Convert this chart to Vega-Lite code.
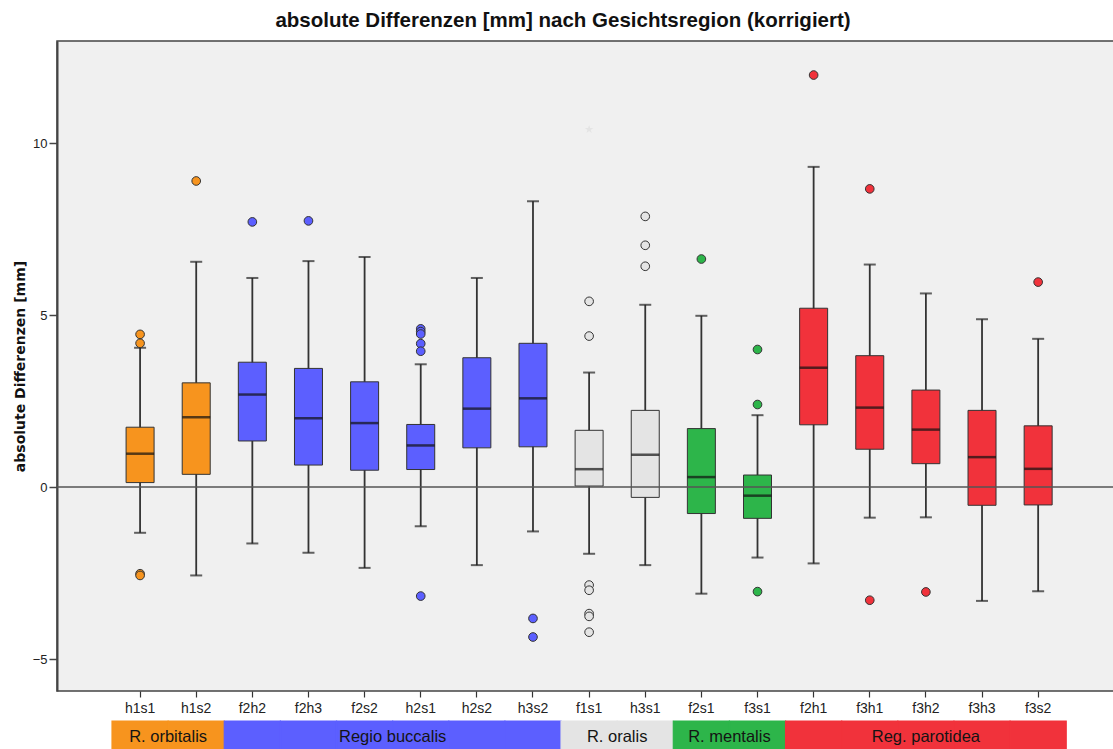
{
  "$schema": "https://vega.github.io/schema/vega-lite/v6.json",
  "background": "white",
  "padding": {"left": 12, "top": 9, "right": 0, "bottom": 0},
  "config": {"font": "Liberation Sans", "concat": {"spacing": 4}},
  "datasets": {
    "boxes": [
      {"cat": "h1s1", "region": "R. orbitalis", "lo": -1.33, "q1": 0.13, "med": 0.97, "q3": 1.74, "hi": 4.05},
      {"cat": "h1s2", "region": "R. orbitalis", "lo": -2.57, "q1": 0.37, "med": 2.03, "q3": 3.03, "hi": 6.55},
      {"cat": "f2h2", "region": "Regio buccalis", "lo": -1.64, "q1": 1.34, "med": 2.69, "q3": 3.63, "hi": 6.08},
      {"cat": "f2h3", "region": "Regio buccalis", "lo": -1.91, "q1": 0.64, "med": 2.0, "q3": 3.45, "hi": 6.57},
      {"cat": "f2s2", "region": "Regio buccalis", "lo": -2.35, "q1": 0.49, "med": 1.86, "q3": 3.06, "hi": 6.69},
      {"cat": "h2s1", "region": "Regio buccalis", "lo": -1.14, "q1": 0.51, "med": 1.21, "q3": 1.82, "hi": 3.57},
      {"cat": "h2s2", "region": "Regio buccalis", "lo": -2.27, "q1": 1.14, "med": 2.28, "q3": 3.76, "hi": 6.08},
      {"cat": "h3s2", "region": "Regio buccalis", "lo": -1.29, "q1": 1.17, "med": 2.58, "q3": 4.18, "hi": 8.31},
      {"cat": "f1s1", "region": "R. oralis", "lo": -1.94, "q1": 0.03, "med": 0.52, "q3": 1.65, "hi": 3.33},
      {"cat": "h3s1", "region": "R. oralis", "lo": -2.27, "q1": -0.3, "med": 0.94, "q3": 2.23, "hi": 5.3},
      {"cat": "f2s1", "region": "R. mentalis", "lo": -3.1, "q1": -0.77, "med": 0.29, "q3": 1.7, "hi": 4.98},
      {"cat": "f3s1", "region": "R. mentalis", "lo": -2.05, "q1": -0.91, "med": -0.25, "q3": 0.35, "hi": 2.09},
      {"cat": "f2h1", "region": "Reg. parotidea", "lo": -2.22, "q1": 1.81, "med": 3.47, "q3": 5.2, "hi": 9.31},
      {"cat": "f3h1", "region": "Reg. parotidea", "lo": -0.89, "q1": 1.1, "med": 2.31, "q3": 3.82, "hi": 6.47},
      {"cat": "f3h2", "region": "Reg. parotidea", "lo": -0.88, "q1": 0.68, "med": 1.67, "q3": 2.82, "hi": 5.63},
      {"cat": "f3h3", "region": "Reg. parotidea", "lo": -3.31, "q1": -0.53, "med": 0.87, "q3": 2.23, "hi": 4.88},
      {"cat": "f3s2", "region": "Reg. parotidea", "lo": -3.03, "q1": -0.52, "med": 0.53, "q3": 1.78, "hi": 4.31}
    ],
    "outliers": [
      {"cat": "h1s1", "region": "R. orbitalis", "v": 4.44, "type": "outlier"},
      {"cat": "h1s1", "region": "R. orbitalis", "v": 4.18, "type": "outlier"},
      {"cat": "h1s1", "region": "R. orbitalis", "v": -2.52, "type": "outlier"},
      {"cat": "h1s1", "region": "R. orbitalis", "v": -2.57, "type": "outlier"},
      {"cat": "h1s2", "region": "R. orbitalis", "v": 8.9, "type": "outlier"},
      {"cat": "f2h2", "region": "Regio buccalis", "v": 7.71, "type": "outlier"},
      {"cat": "f2h3", "region": "Regio buccalis", "v": 7.74, "type": "outlier"},
      {"cat": "h2s1", "region": "Regio buccalis", "v": 4.6, "type": "outlier"},
      {"cat": "h2s1", "region": "Regio buccalis", "v": 4.52, "type": "outlier"},
      {"cat": "h2s1", "region": "Regio buccalis", "v": 4.45, "type": "outlier"},
      {"cat": "h2s1", "region": "Regio buccalis", "v": 4.17, "type": "outlier"},
      {"cat": "h2s1", "region": "Regio buccalis", "v": 3.95, "type": "outlier"},
      {"cat": "h2s1", "region": "Regio buccalis", "v": -3.17, "type": "outlier"},
      {"cat": "h3s2", "region": "Regio buccalis", "v": -3.82, "type": "outlier"},
      {"cat": "h3s2", "region": "Regio buccalis", "v": -4.36, "type": "outlier"},
      {"cat": "f1s1", "region": "R. oralis", "v": 5.4, "type": "outlier"},
      {"cat": "f1s1", "region": "R. oralis", "v": 4.39, "type": "outlier"},
      {"cat": "f1s1", "region": "R. oralis", "v": -2.85, "type": "outlier"},
      {"cat": "f1s1", "region": "R. oralis", "v": -3.0, "type": "outlier"},
      {"cat": "f1s1", "region": "R. oralis", "v": -3.68, "type": "outlier"},
      {"cat": "f1s1", "region": "R. oralis", "v": -3.76, "type": "outlier"},
      {"cat": "f1s1", "region": "R. oralis", "v": -4.22, "type": "outlier"},
      {"cat": "f1s1", "region": "R. oralis", "v": 10.4, "type": "extreme"},
      {"cat": "h3s1", "region": "R. oralis", "v": 7.87, "type": "outlier"},
      {"cat": "h3s1", "region": "R. oralis", "v": 7.03, "type": "outlier"},
      {"cat": "h3s1", "region": "R. oralis", "v": 6.42, "type": "outlier"},
      {"cat": "f2s1", "region": "R. mentalis", "v": 6.63, "type": "outlier"},
      {"cat": "f3s1", "region": "R. mentalis", "v": 4.0, "type": "outlier"},
      {"cat": "f3s1", "region": "R. mentalis", "v": 2.4, "type": "outlier"},
      {"cat": "f3s1", "region": "R. mentalis", "v": -3.04, "type": "outlier"},
      {"cat": "f2h1", "region": "Reg. parotidea", "v": 11.98, "type": "outlier"},
      {"cat": "f3h1", "region": "Reg. parotidea", "v": 8.67, "type": "outlier"},
      {"cat": "f3h1", "region": "Reg. parotidea", "v": -3.29, "type": "outlier"},
      {"cat": "f3h2", "region": "Reg. parotidea", "v": -3.05, "type": "outlier"},
      {"cat": "f3s2", "region": "Reg. parotidea", "v": 5.96, "type": "outlier"}
    ],
    "regions": [
      {"region": "R. orbitalis", "anchor": "h1s1", "mid": "edge"},
      {"region": "Regio buccalis", "anchor": "f2s2", "mid": "edge"},
      {"region": "R. oralis", "anchor": "f1s1", "mid": "edge"},
      {"region": "R. mentalis", "anchor": "f2s1", "mid": "edge"},
      {"region": "Reg. parotidea", "anchor": "f3h2", "mid": "center"}
    ]
  },
  "vconcat": [
    {
      "width": 1060,
      "height": 650,
      "view": {"fill": "#F0F0F0", "stroke": "#444444", "strokeWidth": 1.5},
      "title": {
        "text": "absolute Differenzen [mm] nach Gesichtsregion (korrigiert)",
        "font": "Liberation Sans",
        "fontSize": 20.5,
        "fontWeight": "bold",
        "color": "#111111",
        "anchor": "middle",
        "dx": -24,
        "offset": 10
      },
      "layer": [
        {
          "data": {"name": "boxes"},
          "mark": {"type": "rule", "color": "#333333", "strokeWidth": 1.8},
          "encoding": {
            "x": {
              "field": "cat", "type": "nominal", "sort": null,
              "scale": {"paddingInner": 0, "paddingOuter": 0.9425, "align": 0.52},
              "axis": {"title": null, "orient": "bottom", "labelAngle": 0, "labelFontSize": 14, "labelColor": "#222222", "tickSize": 6, "tickColor": "#333333", "tickWidth": 1.2, "domain": false, "labelPadding": 4}
            },
            "y": {
              "field": "lo", "type": "quantitative",
              "scale": {"domain": [-5.93, 12.97], "nice": false, "zero": false},
              "axis": {"title": "absolute Differenzen [mm]", "titleFont": "DejaVu Sans", "titleFontSize": 14, "titleFontWeight": "bold", "titleColor": "#111111", "titlePadding": 5, "values": [-5, 0, 5, 10], "labelFontSize": 13, "labelColor": "#222222", "labelPadding": 2, "tickSize": 8, "tickColor": "#444444", "tickWidth": 1.5, "domain": true, "domainColor": "#444444", "domainWidth": 2, "grid": false}
            },
            "y2": {"field": "hi"}
          }
        },
        {
          "data": {"name": "boxes"},
          "mark": {"type": "tick", "color": "#222222", "size": 12, "thickness": 2},
          "encoding": {
            "x": {"field": "cat", "type": "nominal", "sort": null},
            "y": {"field": "hi", "type": "quantitative"}
          }
        },
        {
          "data": {"name": "boxes"},
          "mark": {"type": "tick", "color": "#222222", "size": 12, "thickness": 2},
          "encoding": {
            "x": {"field": "cat", "type": "nominal", "sort": null},
            "y": {"field": "lo", "type": "quantitative"}
          }
        },
        {
          "data": {"name": "boxes"},
          "mark": {"type": "bar", "size": 28, "stroke": "#333333", "strokeWidth": 1},
          "encoding": {
            "x": {"field": "cat", "type": "nominal", "sort": null},
            "y": {"field": "q1", "type": "quantitative"},
            "y2": {"field": "q3"},
            "fill": {
              "field": "region", "type": "nominal",
              "scale": {"domain": ["R. orbitalis", "Regio buccalis", "R. oralis", "R. mentalis", "Reg. parotidea"], "range": ["#F7941E", "#5C5FFF", "#E4E4E4", "#2DB54A", "#F1323B"]},
              "legend": null
            }
          }
        },
        {
          "data": {"name": "boxes"},
          "mark": {"type": "tick", "color": "#111111", "size": 28, "thickness": 2.5},
          "encoding": {
            "x": {"field": "cat", "type": "nominal", "sort": null},
            "y": {"field": "med", "type": "quantitative"}
          }
        },
        {
          "data": {"values": [{"ref": 0}]},
          "mark": {"type": "rule", "color": "#555555", "strokeWidth": 1.6},
          "encoding": {
            "y": {"field": "ref", "type": "quantitative"}
          }
        },
        {
          "data": {"name": "outliers"},
          "transform": [{"filter": "datum.type === 'outlier'"}],
          "mark": {"type": "point", "shape": "circle", "filled": true, "size": 75, "stroke": "#333333", "strokeWidth": 1, "opacity": 1},
          "encoding": {
            "x": {"field": "cat", "type": "nominal", "sort": null},
            "y": {"field": "v", "type": "quantitative"},
            "fill": {"field": "region", "type": "nominal", "legend": null}
          }
        },
        {
          "data": {"name": "outliers"},
          "transform": [{"filter": "datum.type === 'extreme'"}],
          "mark": {"type": "point", "shape": "M0,-1L0.2245,-0.309L0.9511,-0.309L0.3633,0.118L0.5878,0.809L0,0.382L-0.5878,0.809L-0.3633,0.118L-0.9511,-0.309L-0.2245,-0.309Z", "filled": true, "size": 80, "strokeWidth": 0, "opacity": 1},
          "encoding": {
            "x": {"field": "cat", "type": "nominal", "sort": null},
            "y": {"field": "v", "type": "quantitative"},
            "fill": {"field": "region", "type": "nominal", "legend": null}
          }
        }
      ]
    },
    {
      "width": 1060,
      "height": 32,
      "view": {"stroke": null, "fill": null},
      "layer": [
        {
          "data": {"name": "boxes"},
          "mark": {"type": "bar", "strokeWidth": 1.2},
          "encoding": {
            "x": {
              "field": "cat", "type": "nominal", "sort": null,
              "scale": {"domain": ["h1s1", "h1s2", "f2h2", "f2h3", "f2s2", "h2s1", "h2s2", "h3s2", "f1s1", "h3s1", "f2s1", "f3s1", "f2h1", "f3h1", "f3h2", "f3h3", "f3s2"], "paddingInner": 0, "paddingOuter": 0.9425, "align": 0.52},
              "axis": null
            },
            "fill": {"field": "region", "type": "nominal", "legend": null},
            "stroke": {
              "field": "region", "type": "nominal", "legend": null,
              "scale": {"domain": ["R. orbitalis", "Regio buccalis", "R. oralis", "R. mentalis", "Reg. parotidea"], "range": ["#F7941E", "#5C5FFF", "#E4E4E4", "#2DB54A", "#F1323B"]}
            }
          }
        },
        {
          "data": {"name": "regions"},
          "transform": [{"filter": "datum.mid === 'edge'"}],
          "mark": {"type": "text", "fontSize": 16.5, "color": "#141414", "font": "Liberation Sans"},
          "encoding": {
            "x": {"field": "anchor", "type": "nominal", "bandPosition": 1},
            "text": {"field": "region"}
          }
        },
        {
          "data": {"name": "regions"},
          "transform": [{"filter": "datum.mid === 'center'"}],
          "mark": {"type": "text", "fontSize": 16.5, "color": "#141414", "font": "Liberation Sans"},
          "encoding": {
            "x": {"field": "anchor", "type": "nominal", "bandPosition": 0.5},
            "text": {"field": "region"}
          }
        }
      ]
    }
  ],
  "resolve": {"scale": {"x": "independent"}}
}
